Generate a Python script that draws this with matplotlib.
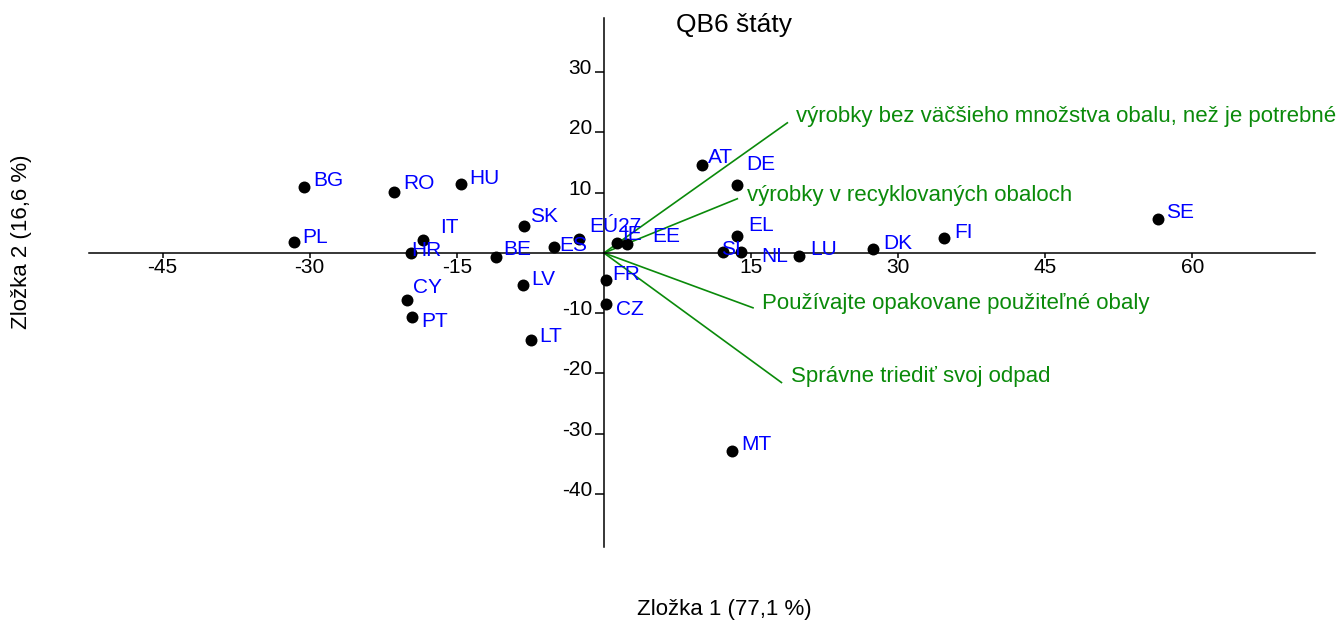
import matplotlib
matplotlib.use("Agg")
import matplotlib.pyplot as plt
from matplotlib.transforms import ScaledTranslation

plt.rcParams['font.family'] = ['Liberation Sans', 'DejaVu Sans']
plt.rcParams['axes.unicode_minus'] = False

# Country scores on the first two components
countries = ["BG", "RO", "HU", "PL", "IT", "HR", "SK", "BE", "LV", "CY", "PT", "LT",
             "ES", "EÚ27", "IE", "EE", "FR", "CZ", "SI", "NL", "EL", "AT", "DE",
             "LU", "DK", "FI", "SE", "MT"]
comp1 = [-30.55, -21.4, -14.6, -31.6, -18.4, -19.7, -8.1, -11.0, -8.3, -20.1, -19.6, -7.4,
         -5.1, -2.55, 1.3, 2.4, 0.17, 0.17, 12.1, 14.0, 13.6, 10.0, 13.6,
         19.9, 27.45, 34.66, 56.5, 13.05]
comp2 = [10.9, 10.2, 11.4, 1.8, 2.2, 0.05, 4.4, -0.6, -5.3, -7.8, -10.7, -14.5,
         1.05, 2.4, 1.6, 1.5, -4.5, -8.5, 0.2, 0.17, 2.8, 14.6, 11.3,
         -0.45, 0.6, 2.5, 5.7, -32.8]

# Variable loadings (drawn as rays from the origin)
var_names = ["výrobky bez väčšieho množstva obalu, než je potrebné",
             "výrobky v recyklovaných obaloch",
             "Používajte opakovane použiteľné obaly",
             "Správne triediť svoj odpad"]
var_comp1 = [18.7, 13.6, 15.2, 18.1]
var_comp2 = [21.6, 9.0, -9.1, -21.5]

x_ticks = [-45, -30, -15, 15, 30, 45, 60]
y_ticks = [-40, -30, -20, -10, 10, 20, 30]

title = "QB6 štáty"
x_title = "Zložka 1 (77,1 %)"
y_title = "Zložka 2 (16,6 %)"

# label nudges in pixels (right, down)
label_nudge = {"BG": (9, -9), "RO": (9, -9.5), "HU": (9, -8), "PL": (8, -7),
               "IT": (17, -14), "HR": (1, -4), "SK": (6, -12), "BE": (7, -9),
               "LV": (9, -7), "CY": (6, -14), "PT": (10, 2), "LT": (8, -6),
               "ES": (5, -3), "EÚ27": (10, -14), "IE": (5, -11), "EE": (25, -9),
               "FR": (7, -8), "CZ": (10, 3), "SI": (-2, -4), "NL": (20, 2.5),
               "EL": (11, -13), "AT": (6, -9), "DE": (9, -22), "LU": (11, -8),
               "DK": (10, -8), "FI": (10, -7), "SE": (8, -8), "MT": (9, -8)}
var_nudge = [(9, -8.5), (10, -6), (9.4, -7), (10, -8.7)]

W, H = 1336, 622
PX = 72.0 / 100.0  # points per pixel
FS = 15
FS_VAR = 16
GREEN = "#0a8a0a"
BLUE = "#0000ff"

fig = plt.figure(figsize=(W / 100, H / 100), dpi=100)
ax = fig.add_axes([89 / W, 75 / H, (1315 - 89) / W, (547 - 18) / H])
ax.set_xlim(-52.5, 72.5)
ax.set_ylim(-48.8, 39.0)

for side in ("top", "right"):
    ax.spines[side].set_visible(False)
for side in ("left", "bottom"):
    ax.spines[side].set_position("zero")
    ax.spines[side].set_linewidth(1.1)

ax.set_xticks(x_ticks)
ax.set_yticks(y_ticks)
ax.tick_params(axis="x", direction="out", length=5 * PX, width=1.1, pad=0, labelsize=FS)
ax.tick_params(axis="y", direction="out", length=9 * PX, width=1.1, pad=3 * PX, labelsize=FS)
shift_down = ScaledTranslation(0, -2 / 100, fig.dpi_scale_trans)
for lab in ax.get_yticklabels():
    lab.set_verticalalignment("baseline")
    lab.set_transform(lab.get_transform() + shift_down)


def cap_half(fs):
    return 0.358 * fs / PX  # half cap height, pixels


for name, vx, vy, (dx, dy) in zip(var_names, var_comp1, var_comp2, var_nudge):
    ax.plot([0, vx], [0, vy], color=GREEN, lw=1.2, zorder=2)
    ax.annotate(name, (vx, vy), xytext=(dx * PX, -(dy + cap_half(FS_VAR)) * PX),
                textcoords="offset points", ha="left", va="baseline",
                color=GREEN, fontsize=FS_VAR, zorder=4)

ax.scatter(comp1, comp2, s=74, color="black", zorder=3, linewidths=0)

for name, cx, cy in zip(countries, comp1, comp2):
    dx, dy = label_nudge.get(name, (8, -8))
    ax.annotate(name, (cx, cy), xytext=(dx * PX, -(dy + cap_half(FS)) * PX),
                textcoords="offset points", ha="left", va="baseline",
                color=BLUE, fontsize=FS, zorder=5)

fig.text(733.7 / W, 1 - 25 / H, title, ha="center", va="center", fontsize=19)
fig.text(724.5 / W, 1 - 610 / H, x_title, ha="center", va="center", fontsize=16)
fig.text(22 / W, 1 - 242 / H, y_title, ha="center", va="center", fontsize=16, rotation=90)

fig.savefig("out.png", dpi=100)
